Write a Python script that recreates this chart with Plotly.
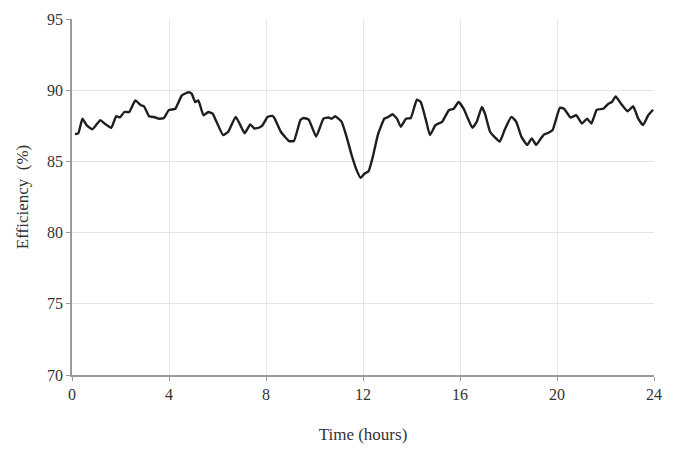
import plotly.graph_objects as go

hours = [0.12, 0.26, 0.43, 0.6, 0.84, 1.17, 1.34, 1.62, 1.82, 1.98, 2.16, 2.36, 2.61, 2.84, 2.97,
         3.18, 3.42, 3.58, 3.79, 3.99, 4.26, 4.53, 4.81, 4.94, 5.08, 5.21, 5.42, 5.62, 5.8, 5.96,
         6.23, 6.44, 6.75, 6.94, 7.12, 7.35, 7.52, 7.73, 7.86, 8.07, 8.27, 8.36, 8.61, 8.95, 9.15,
         9.42, 9.56, 9.76, 10.07, 10.37, 10.58, 10.71, 10.85, 11.12, 11.32, 11.53, 11.73, 11.9,
         12.07, 12.23, 12.41, 12.61, 12.88, 13.05, 13.22, 13.4, 13.56, 13.77, 13.97, 14.22, 14.38,
         14.58, 14.76, 14.99, 15.26, 15.54, 15.74, 15.94, 16.15, 16.33, 16.51, 16.69, 16.9, 17.03,
         17.24, 17.41, 17.64, 17.85, 18.12, 18.32, 18.53, 18.77, 18.96, 19.14, 19.34, 19.48, 19.65,
         19.82, 19.95, 20.12, 20.29, 20.56, 20.79, 21.03, 21.24, 21.42, 21.64, 21.91, 22.12, 22.26,
         22.42, 22.64, 22.91, 23.14, 23.35, 23.55, 23.76, 23.96]
efficiency = [86.92, 86.97, 88.0, 87.55, 87.25, 87.9, 87.66, 87.36, 88.17, 88.1, 88.47, 88.47, 89.28,
              88.94, 88.87, 88.17, 88.1, 88.0, 88.05, 88.6, 88.7, 89.63, 89.86, 89.74, 89.17, 89.28,
              88.24, 88.47, 88.35, 87.78, 86.85, 87.08, 88.13, 87.55, 86.97, 87.6, 87.31, 87.38,
              87.55, 88.13, 88.19, 88.0, 87.08, 86.43, 86.43, 87.9, 88.05, 87.94, 86.74, 88.0, 88.08,
              88.0, 88.17, 87.78, 86.74, 85.45, 84.42, 83.84, 84.15, 84.31, 85.35, 86.85, 88.0, 88.13,
              88.31, 88.0, 87.43, 88.0, 88.05, 89.33, 89.17, 88.0, 86.85, 87.55, 87.78, 88.59, 88.7,
              89.17, 88.7, 88.0, 87.36, 87.78, 88.82, 88.35, 87.08, 86.74, 86.39, 87.25, 88.13, 87.78,
              86.74, 86.16, 86.62, 86.16, 86.62, 86.9, 87.01, 87.2, 87.9, 88.77, 88.7, 88.08, 88.24,
              87.66, 88.0, 87.66, 88.63, 88.7, 89.05, 89.17, 89.56, 89.05, 88.52, 88.87, 88.0, 87.55,
              88.24, 88.63]

x_ticks = [0, 4, 8, 12, 16, 20, 24]
y_ticks = [70, 75, 80, 85, 90, 95]

font_family = "Liberation Serif, Times New Roman, serif"

fig = go.Figure()
fig.add_trace(go.Scatter(
    x=hours, y=efficiency, mode="lines",
    line=dict(color="#1e1e1e", width=2.4, shape="spline", smoothing=0.4),
    showlegend=False, hoverinfo="skip",
))

fig.update_layout(
    width=673, height=452,
    margin=dict(l=72, r=11, t=16, b=76),
    paper_bgcolor="white", plot_bgcolor="white",
    font=dict(family=font_family, size=16, color="#333333"),
    xaxis=dict(
        range=[0, 24], tickvals=x_ticks, ticktext=[str(v) for v in x_ticks],
        showgrid=True, gridcolor="#e8e8e8", gridwidth=1,
        showline=True, linecolor="#9a9a9a", linewidth=1.5,
        ticks="outside", ticklen=4, tickcolor="#9a9a9a",
        zeroline=False,
        title=dict(text="Time (hours)", font=dict(size=17, family=font_family, color="#333333"), standoff=26),
    ),
    yaxis=dict(
        range=[70, 95], tickvals=y_ticks, ticktext=[str(v) for v in y_ticks],
        showgrid=True, gridcolor="#e3e3e3", gridwidth=1,
        showline=True, linecolor="#9a9a9a", linewidth=1.5,
        ticks="outside", ticklen=4, tickcolor="#9a9a9a",
        zeroline=False,
        title=dict(text="Efficiency  (%)", font=dict(size=17, family=font_family, color="#333333"), standoff=14),
    ),
)

fig.write_html("out.html")
